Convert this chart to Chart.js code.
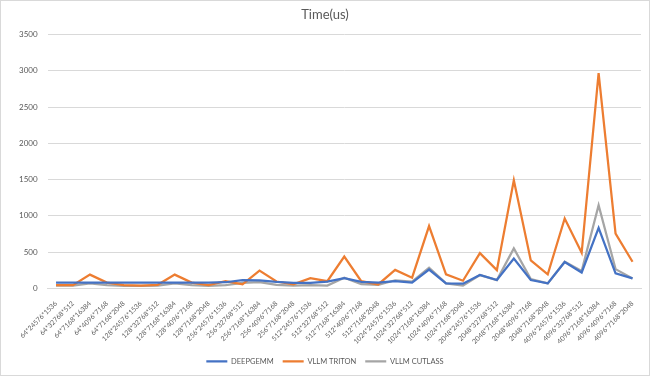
<!DOCTYPE html>
<html>
<head>
<meta charset="utf-8">
<script src="https://cdn.jsdelivr.net/npm/chart.js@4/dist/chart.umd.min.js"></script>
<style>
  html, body { margin: 0; padding: 0; background: #fff; }
  #wrap { position: relative; width: 650px; height: 376px; box-sizing: border-box; border: 1px solid #d9d9d9; }
</style>
</head>
<body>
<div id="wrap"><canvas id="chart"></canvas></div>
<script>
// shapes M*N*K
var shapes = [
    '64*24576*1536', '64*32768*512', '64*7168*16384', '64*4096*7168', '64*7168*2048',
    '128*24576*1536', '128*32768*512', '128*7168*16384', '128*4096*7168', '128*7168*2048',
    '256*24576*1536', '256*32768*512', '256*7168*16384', '256*4096*7168', '256*7168*2048',
    '512*24576*1536', '512*32768*512', '512*7168*16384', '512*4096*7168', '512*7168*2048',
    '1024*24576*1536', '1024*32768*512', '1024*7168*16384', '1024*4096*7168', '1024*7168*2048',
    '2048*24576*1536', '2048*32768*512', '2048*7168*16384', '2048*4096*7168', '2048*7168*2048',
    '4096*24576*1536', '4096*32768*512', '4096*7168*16384', '4096*4096*7168', '4096*7168*2048'
]

var deepgemm = [80, 80, 80, 80, 80, 80, 80, 80, 80, 80,
    85, 115, 112, 90, 78, 78, 95, 140, 90, 80,
    100, 80, 260, 70, 65, 185, 115, 413, 115, 70,
    365, 220, 835, 207, 138]

var triton = [45, 45, 190, 80, 45, 40, 50, 190, 80, 45,
    100, 55, 245, 95, 55, 140, 100, 440, 100, 55,
    255, 148, 860, 195, 106, 487, 252, 1492, 386, 193,
    964, 491, 2968, 757, 367]

var cutlass = [40, 40, 70, 45, 35, 35, 40, 70, 45, 35,
    45, 75, 85, 50, 40, 45, 40, 148, 58, 50,
    112, 94, 285, 69, 40, 184, 115, 551, 128, 69,
    367, 239, 1148, 266, 138]

var yMin = 0, yMax = 3500, yStep = 500

var FONT = 'Lato, "Liberation Sans", sans-serif'
var TXT = '#595959'

function series(label, data, color) {
    return {
        label: label,
        data: data,
        borderColor: color,
        backgroundColor: color,
        borderWidth: 2.25,
        pointRadius: 0,
        tension: 0,
        fill: false
    }
}

var chart = new Chart(document.getElementById('chart').getContext('2d'), {
    type: 'line',
    data: {
        labels: shapes,
        datasets: [
            series('DEEPGEMM', deepgemm, '#4472C4'),
            series('VLLM TRITON', triton, '#ED7D31'),
            series('VLLM CUTLASS', cutlass, '#A5A5A5')
        ]
    },
    options: {
        responsive: true,
        maintainAspectRatio: false,
        animation: false,
        layout: { padding: { left: 8, right: 8, top: 0, bottom: 0 } },
        plugins: {
            tooltip: { enabled: false },
            title: {
                display: true,
                text: 'Time(us)',
                color: TXT,
                font: { family: FONT, size: 13, weight: 'normal' },
                padding: { top: 6, bottom: 12 }
            },
            legend: {
                position: 'bottom',
                labels: {
                    usePointStyle: true,
                    pointStyle: 'line',
                    pointStyleWidth: 21,
                    color: TXT,
                    font: { family: FONT, size: 7.5 },
                    padding: 9
                }
            }
        },
        scales: {
            x: {
                offset: true,
                grid: { display: false },
                border: { color: '#d9d9d9' },
                ticks: {
                    autoSkip: false,
                    minRotation: 45,
                    maxRotation: 45,
                    color: TXT,
                    padding: 3,
                    font: { family: FONT, size: 6.8 }
                }
            },
            y: {
                min: yMin,
                max: yMax,
                border: { display: false },
                grid: { color: '#d9d9d9', drawTicks: false },
                ticks: {
                    stepSize: yStep,
                    color: TXT,
                    padding: 10,
                    font: { family: FONT, size: 8 },
                    callback: function(value) { return String(value) }
                }
            }
        }
    }
})
</script>
</body>
</html>
